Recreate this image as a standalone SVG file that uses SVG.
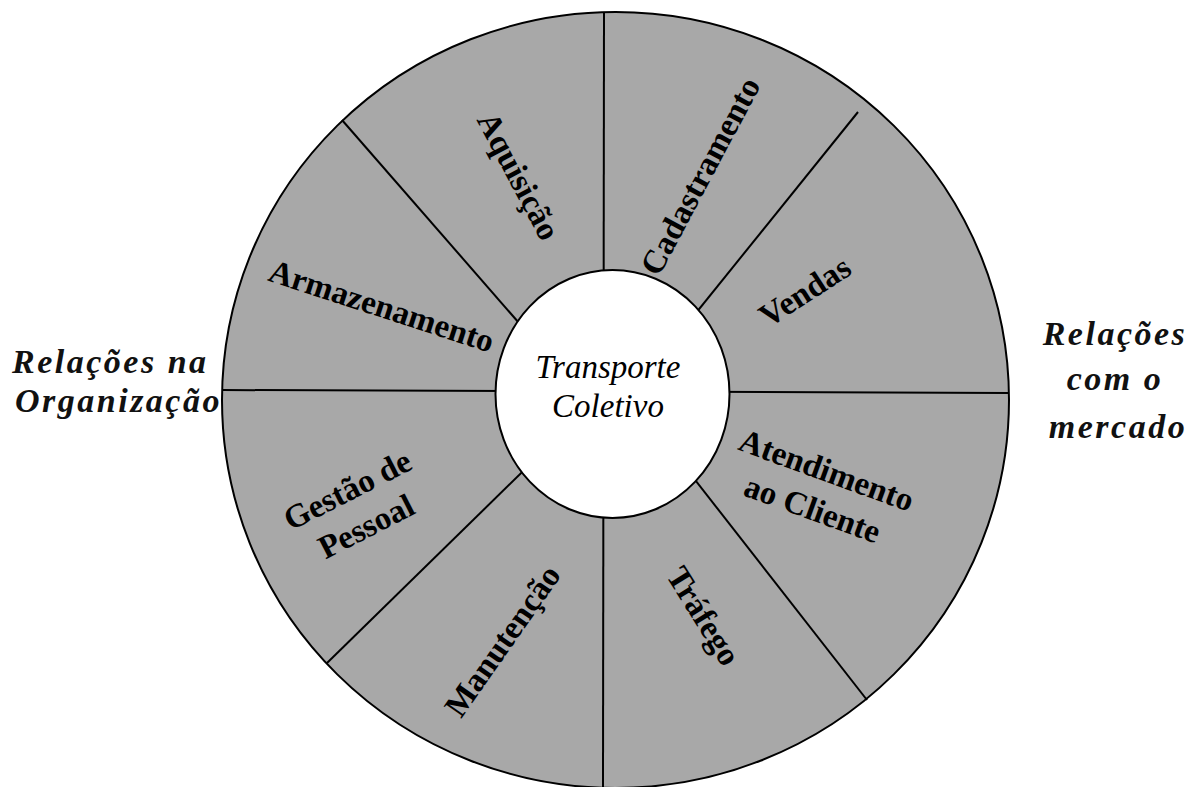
<svg xmlns="http://www.w3.org/2000/svg" width="1202" height="787" viewBox="0 0 1202 787">
  <style>
    .ring { fill: #a8a8a8; stroke: #000; stroke-width: 2; }
    .hub { fill: #fff; stroke: #000; stroke-width: 2; }
    .divider { stroke: #000; stroke-width: 2; fill: none; }
    .seg { font-family: "Liberation Serif", "Times New Roman", serif; font-weight: bold; font-size: 33px; fill: #000; text-anchor: middle; }
    .hubtxt { font-family: "Liberation Serif", "Times New Roman", serif; font-style: italic; font-size: 33px; fill: #000; text-anchor: middle; }
    .side { font-family: "Liberation Serif", "Times New Roman", serif; font-style: italic; font-weight: bold; font-size: 34px; letter-spacing: 2.5px; fill: #111; }
  </style>

  <!-- outer ring -->
  <g id="ring">
    <ellipse class="ring" cx="615.5" cy="400" rx="393.5" ry="388"/>
  </g>

  <!-- sector dividers -->
  <g id="connectors">
    <line class="divider" x1="604" y1="12" x2="603" y2="788"/>
    <line class="divider" x1="222" y1="390" x2="1009" y2="393"/>
    <line class="divider" x1="342" y1="120" x2="560" y2="370"/>
    <line class="divider" x1="858" y1="112" x2="650" y2="370"/>
    <line class="divider" x1="327" y1="663" x2="560" y2="435"/>
    <line class="divider" x1="867" y1="700" x2="660" y2="435"/>
  </g>

  <!-- central hub -->
  <g id="hub">
    <ellipse class="hub" cx="612.5" cy="394" rx="117" ry="124"/>
    <text class="hubtxt" x="608" y="378">Transporte</text>
    <text class="hubtxt" x="608" y="417">Coletivo</text>
  </g>

  <!-- ring sectors -->
  <g id="aquisicao" transform="translate(517,177) rotate(62)">
    <text class="seg" x="0" y="9">Aquisição</text>
  </g>
  <g id="cadastramento" transform="translate(702,177) rotate(-62)">
    <text class="seg" x="0" y="9">Cadastramento</text>
  </g>
  <g id="vendas" transform="translate(806,293) rotate(-33)">
    <text class="seg" x="0" y="9">Vendas</text>
  </g>
  <g id="armazenamento" transform="translate(381,308) rotate(18)">
    <text class="seg" x="0" y="9">Armazenamento</text>
  </g>
  <g id="gestao-de-pessoal" transform="translate(357.5,509.5) rotate(-27)">
    <text class="seg" x="0" y="-11">Gestão de</text>
    <text class="seg" x="0" y="30">Pessoal</text>
  </g>
  <g id="manutencao" transform="translate(504,642) rotate(-55)">
    <text class="seg" x="0" y="9">Manutenção</text>
  </g>
  <g id="trafego" transform="translate(702,617) rotate(58)">
    <text class="seg" x="0" y="9">Tráfego</text>
  </g>
  <g id="atendimento" transform="translate(819,491) rotate(20)">
    <text class="seg" x="0" y="-11">Atendimento</text>
    <text class="seg" x="0" y="30">ao Cliente</text>
  </g>

  <!-- side captions -->
  <g id="relacoes-organizacao">
    <text class="side" x="12" y="373">Relações na</text>
    <text class="side" x="15" y="412">Organização</text>
  </g>
  <g id="relacoes-mercado">
    <text class="side" x="1115" y="345" text-anchor="middle">Relações</text>
    <text class="side" x="1115" y="390" text-anchor="middle">com o</text>
    <text class="side" x="1118" y="438" text-anchor="middle">mercado</text>
  </g>
</svg>
